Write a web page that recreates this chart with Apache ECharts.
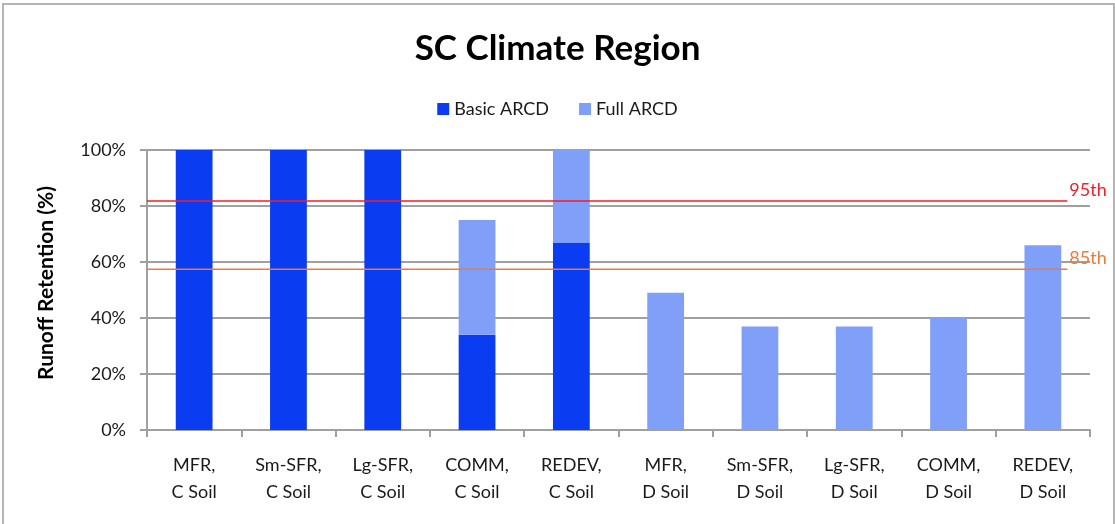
<!DOCTYPE html>
<html>
<head>
<meta charset="utf-8">
<script src="https://cdn.jsdelivr.net/npm/echarts@6/dist/echarts.min.js"></script>
<style>
	body { margin: 0; background: #fff; }
	#frame { position: absolute; left: 2px; top: 3px; width: 1109px; height: 530px; border: 2px solid #b4b4b4; }
	#chart { position: absolute; left: 0; top: 0; width: 1115px; height: 524px; }
</style>
</head>
<body>
<div id="frame"></div>
<div id="chart"></div>
<script>
//categories and values
var categories = ["MFR,\nC Soil", "Sm-SFR,\nC Soil", "Lg-SFR,\nC Soil", "COMM,\nC Soil", "REDEV,\nC Soil",
	"MFR,\nD Soil", "Sm-SFR,\nD Soil", "Lg-SFR,\nD Soil", "COMM,\nD Soil", "REDEV,\nD Soil"];
var basicARCD = [100, 100, 100, 34, 67, "-", "-", "-", "-", "-"];
var fullARCD = ["-", "-", "-", 41, 33, 49, 37, 37, 40, 66];
var yTicks = [0, 20, 40, 60, 80, 100];
//percentile lines
var p95 = 81.8;
var p85 = 57.4;
var refSpan = [0, 0.976];	//share of the x range the lines cover

var font = "Lato";

function refLine(name, value, color) {
	return {
		name: name,
		type: 'line',
		xAxisIndex: 1,
		data: [[refSpan[0], value], [refSpan[1], value]],
		symbol: 'none',
		silent: true,
		z: 5,
		lineStyle: { color: color, width: 1.5 },
		endLabel: {
			show: true,
			formatter: name,
			color: color,
			fontFamily: font,
			fontSize: 18,
			offset: [-2, -11],
			distance: 4
		}
	};
}

var chart = echarts.init(document.getElementById('chart'));
var option = {
	animation: false,
	textStyle: { fontFamily: font },
	title: {
		text: 'SC Climate Region',
		left: 'center',
		top: 26,
		textStyle: { fontFamily: font, fontSize: 35, fontWeight: 'bold', color: '#000' }
	},
	legend: {
		data: ['Basic ARCD', 'Full ARCD'],
		left: 'center',
		top: 95,
		itemWidth: 12,
		itemHeight: 12,
		itemGap: 30,
		icon: 'rect',
		textStyle: { fontFamily: font, fontSize: 18, color: '#1a1a1a' }
	},
	grid: { left: 147, right: 25, top: 150, bottom: 94 },
	xAxis: [{
		type: 'category',
		data: categories,
		axisLine: { lineStyle: { color: '#a0a0a0', width: 2 } },
		axisTick: { show: true, length: 7, lineStyle: { color: '#a0a0a0', width: 2 } },
		axisLabel: { fontFamily: font, fontSize: 18, color: '#1a1a1a', lineHeight: 27, margin: 22 }
	}, {
		type: 'value',
		min: 0,
		max: 1,
		show: false
	}],
	yAxis: {
		type: 'value',
		min: yTicks[0],
		max: yTicks[yTicks.length - 1],
		interval: 20,
		name: 'Runoff Retention (%)',
		nameLocation: 'middle',
		nameGap: 90,
		nameRotate: 90,
		nameTextStyle: { fontFamily: font, fontSize: 21, fontWeight: 'bold', color: '#000', padding: [0, 0, 0, 14] },
		axisLine: { show: true, lineStyle: { color: '#a0a0a0', width: 2 } },
		axisTick: { show: true, length: 7, lineStyle: { color: '#a0a0a0', width: 2 } },
		axisLabel: { fontFamily: font, fontSize: 18, color: '#1a1a1a', margin: 21, formatter: '{value}%' },
		splitLine: { lineStyle: { color: '#a0a0a0', width: 2 } }
	},
	series: [{
		name: 'Basic ARCD',
		type: 'bar',
		stack: 'arcd',
		barWidth: '39%',
		itemStyle: { color: '#0a3cf2' },
		data: basicARCD
	}, {
		name: 'Full ARCD',
		type: 'bar',
		stack: 'arcd',
		barWidth: '39%',
		itemStyle: { color: '#809ff8' },
		data: fullARCD
	},
		refLine('95th', p95, '#f01e28'),
		refLine('85th', p85, '#ec7a3c')
	]
};
chart.setOption(option);
</script>
</body>
</html>
